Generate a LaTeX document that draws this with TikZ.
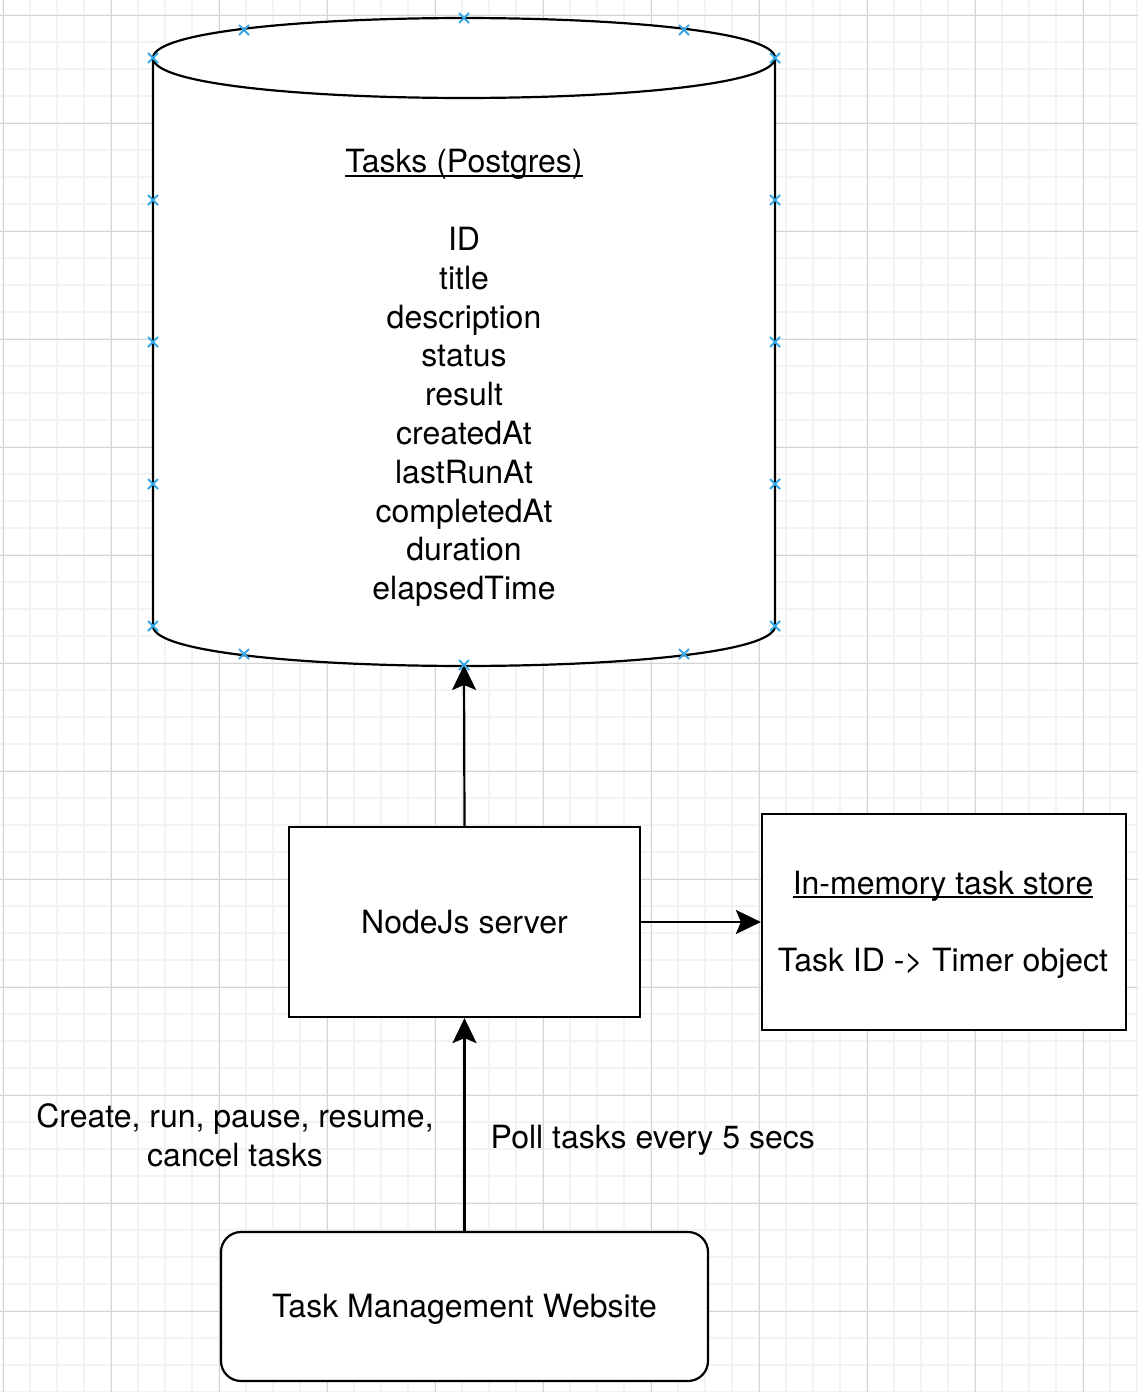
\documentclass[tikz,border=0pt]{standalone}
\usepackage{fontspec}
\setmainfont{TeX Gyre Heros}
\usetikzlibrary{arrows.meta}
\definecolor{gridminor}{RGB}{243,243,243}
\definecolor{gridmajor}{RGB}{212,212,212}
\definecolor{pinblue}{RGB}{52,168,230}
\newcommand{\dbul}[1]{\setbox0\hbox{#1}\rlap{\rule[-0.13em]{\wd0}{0.065em}}\box0}
\tikzset{
  lbl/.style={font=\fontsize{32}{38.8}\selectfont, inner sep=0pt, anchor=base},
  boxnode/.style={draw=black, line width=2.2pt, fill=white, inner sep=0pt,
    font=\fontsize{32}{38.8}\selectfont, text height=23pt, text depth=1pt},
  flow/.style={draw=black, line width=2.2pt, -{Stealth[length=25pt,width=24pt,inset=5pt]}},
  pin/.style={draw=pinblue, line width=1.8pt},
}
\begin{document}
\begin{tikzpicture}[x=1pt,y=-1pt]
\useasboundingbox (0,0) rectangle (1138,1392);
\fill[white] (0,0) rectangle (1138,1392);
% grid
\foreach \gx in {0,...,42} \draw[gridminor,line width=2pt] ({3.3+27*\gx},0) -- ({3.3+27*\gx},1392);
\foreach \gy in {0,...,51} \draw[gridminor,line width=2pt] (0,{15.3+27*\gy}) -- (1138,{15.3+27*\gy});
\foreach \gx in {0,...,10} \draw[gridmajor,line width=1.2pt] ({3.3+108*\gx},0) -- ({3.3+108*\gx},1392);
\foreach \gy in {0,...,12} \draw[gridmajor,line width=1.2pt] (0,{15.3+108*\gy}) -- (1138,{15.3+108*\gy});
% cylinder
\draw[line width=2.2pt,fill=white] (153,58) .. controls (153,4.7) and (775,4.7) .. (775,58) -- (775,626)
  .. controls (775,679.3) and (153,679.3) .. (153,626) -- cycle;
\draw[line width=2.2pt] (153,58) .. controls (153,111.3) and (775,111.3) .. (775,58);
\coordinate (dbbase) at (464,665);
\node[lbl] (dbtitle) at (464,172.5) {\dbul{Tasks (Postgres)}};
\foreach \fld [count=\i] in {ID,title,description,status,result,createdAt,lastRunAt,completedAt,duration,elapsedTime}
  \node[lbl] (fld\i) at (464,{250.5+38.8*(\i-1)}) {\fld};
% boxes
\node[boxnode,minimum width=351pt,minimum height=190pt] (server) at (464.5,922) {NodeJs server};
\node[boxnode,minimum width=364pt,minimum height=216pt] (store) at (944,922) {};
\node[lbl] (storetitle) at (943,894) {\dbul{In-memory task store}};
\node[lbl] (storemap) at (943,971) {Task ID -> Timer object};
\node[boxnode,rounded corners=20pt,minimum width=487pt,minimum height=149pt] (site) at (464.5,1306.5) {Task Management Website};
% connectors
\draw[flow] (server.north) -- (dbbase);
\draw[flow] (server.east) -- (store.west);
\draw[flow] (site.north) -- (server.south);
\node[lbl,align=center] (cmdlbl) at (235,1166.7) {Create, run, pause, resume,\\cancel tasks};
\node[lbl,anchor=base west] (polllbl) at (490.5,1148.7) {Poll tasks every 5 secs};
% connection points
\foreach \px/\py in {153/58,244/30,464/18,684/30,775/58,153/200,775/200,153/342,775/342,153/484,775/484,
  153/626,775/626,244/654,464/665,684/654}
  \draw[pin] ({\px-5},{\py-5}) -- ({\px+5},{\py+5}) ({\px-5},{\py+5}) -- ({\px+5},{\py-5});
\end{tikzpicture}
\end{document}
